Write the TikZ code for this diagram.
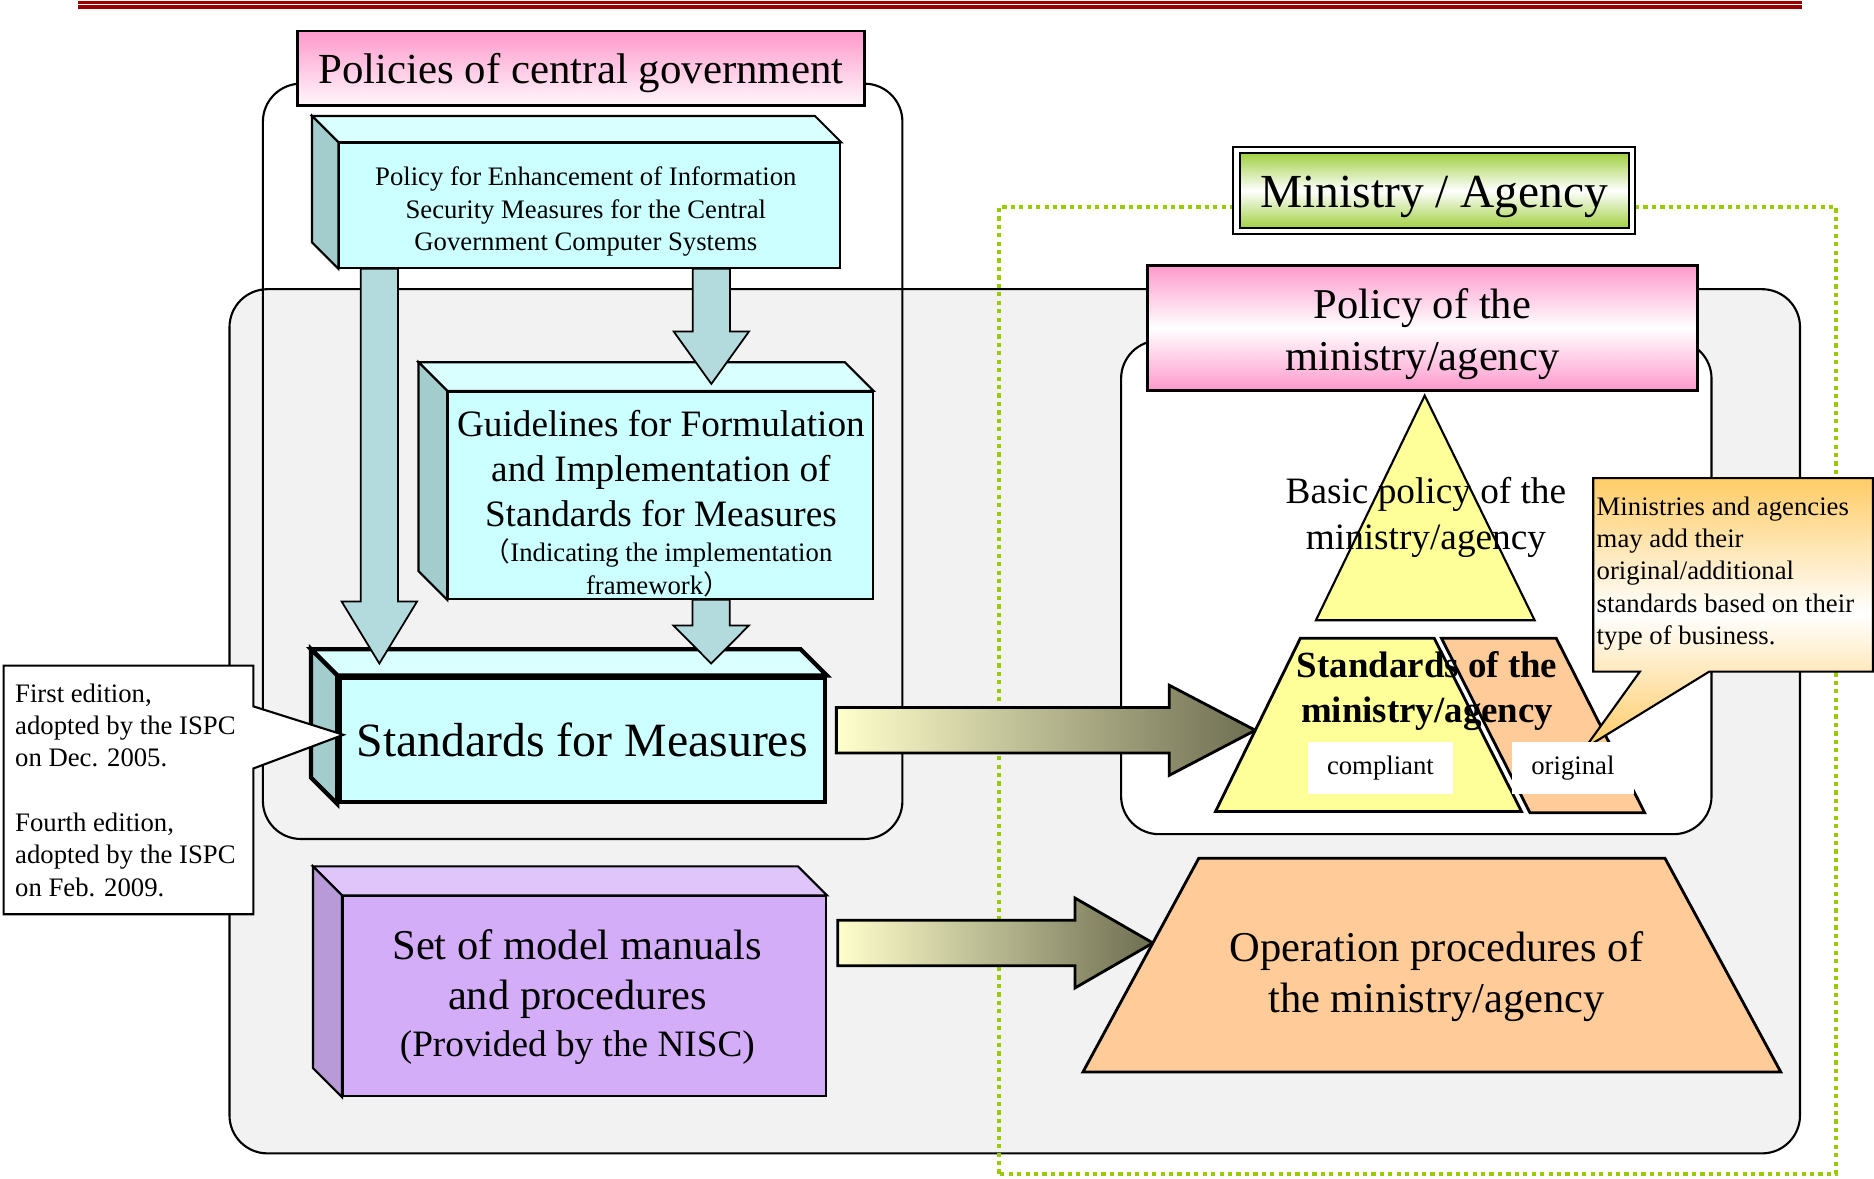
\documentclass[tikz,border=0pt]{standalone}
\usepackage{fontspec}
\setmainfont{Liberation Serif}
\newfontfamily\cjk{Noto Sans CJK JP}
\usetikzlibrary{calc, shapes.geometric}

\definecolor{headred}{HTML}{990000}
\definecolor{marble}{HTML}{F2F2F2}
\definecolor{greendot}{HTML}{99CC00}
\definecolor{pinkbox}{HTML}{FF99CC}
\definecolor{greenbox}{HTML}{99CC33}
\definecolor{cyanfront}{HTML}{CCFFFF}
\definecolor{cyantop}{HTML}{DAFFFF}
\definecolor{cyanside}{HTML}{A3CCCC}
\definecolor{tealfill}{HTML}{B3DADD}
\definecolor{purfront}{HTML}{D4ADF9}
\definecolor{purtop}{HTML}{DFC5FA}
\definecolor{purside}{HTML}{B89AD9}
\definecolor{yellowfill}{HTML}{FFFF99}
\definecolor{orangefill}{HTML}{FFCC99}
\definecolor{noteorange}{HTML}{FFCC66}
\definecolor{arrowlight}{HTML}{FFFFCC}
\definecolor{arrowdark}{HTML}{6E6E52}

\tikzset{
  panel/.style={draw, line width=0.6pt, rounded corners=0.38cm},
  greendots/.style={draw=greendot, line width=1.2pt, dash pattern=on 1.2pt off 1.2pt},
  face/.style={draw, line width=0.6pt},
  cyanbox/.style={draw, fill=cyanfront, line width=0.6pt, inner sep=1pt, align=center},
  purbox/.style={draw, fill=purfront, line width=0.6pt, inner sep=1pt, align=center},
  tealarrow/.style={draw, fill=tealfill, line width=0.5pt},
  fadearrow/.style={draw, line width=0.8pt, left color=arrowlight, right color=arrowdark},
  pinktitle/.style={draw, line width=0.8pt, top color=pinkbox, bottom color=pinkbox, middle color=white, align=center},
  slab/.style={draw, line width=0.8pt},
  txt/.style={inner sep=0pt, align=center},
  tag/.style={fill=white, inner sep=0pt, font={\fontsize{7.6}{9.2}\selectfont}},
}

% block arrows: style, start, tip, head length (and head half width)
\newcommand{\vArrow}[4]{%
  \draw[#1] let \p1=#2, \p2=#3 in
    (\x1-0.186cm,\y1) -- (\x1-0.186cm,\y2+#4) -- (\x1-0.377cm,\y2+#4)
    -- (\x1,\y2) -- (\x1+0.377cm,\y2+#4) -- (\x1+0.186cm,\y2+#4)
    -- (\x1+0.186cm,\y1) -- cycle;}
\newcommand{\hArrow}[5]{%
  \draw[#1] let \p1=#2, \p2=#3 in
    (\x1,\y1+0.227cm) -- (\x2-#4,\y1+0.227cm) -- (\x2-#4,\y1+#5)
    -- (\x2,\y1) -- (\x2-#4,\y1-#5) -- (\x2-#4,\y1-0.227cm)
    -- (\x1,\y1-0.227cm) -- cycle;}

\begin{document}
\begin{tikzpicture}
    \useasboundingbox (0,0) rectangle (18.74,11.785);

    % Header rule
    \draw[headred, line width=0.7pt] (0.777,11.762) -- (18.024,11.762);
    \draw[headred, line width=1.1pt] (0.777,11.712) -- (18.024,11.712);

    % Panels
    \draw[panel, fill=marble] (2.295,0.251) rectangle (18.000,8.893);
    \draw[panel] (2.629,3.395) rectangle (9.024,10.948);
    \draw[greendots] (9.992,0.048) rectangle (18.358,9.717);
    \draw[panel, fill=white] (11.211,3.443) rectangle (17.115,8.379);

    % Shape corners
    \coordinate (smbl) at (12.155,3.670);
    \coordinate (smtl) at (13.004,5.403);
    \coordinate (smtr) at (14.342,5.403);
    \coordinate (smbr) at (15.215,3.670);
    \coordinate (opbl) at (10.829,1.064);
    \coordinate (optl) at (11.988,3.203);
    \coordinate (optr) at (16.649,3.203);
    \coordinate (opbr) at (17.808,1.064);
    \coordinate (smtip) at ($(smbl)!0.469!(smtl)$);
    \coordinate (optip) at ($(opbl)!0.604!(optl)$);
    \coordinate (mintip) at (15.848,4.303);

    % Titles
    \node[draw, line width=0.8pt, top color=pinkbox, bottom color=pinkbox!8, minimum width=5.665cm, minimum height=0.741cm] (cgov) at (5.809,11.104) {};
    \node[txt, font={\fontsize{12.2}{14}\selectfont}] at ($(cgov.center)+(0,-0.05)$) {Policies of central government};
    \node[draw, double, double distance=1.2pt, line width=0.6pt, top color=greenbox, bottom color=greenbox, middle color=white, minimum width=3.955cm, minimum height=0.812cm] (mina) at (14.343,9.879) {};
    \node[txt, font={\fontsize{13.5}{16}\selectfont}] at ($(mina.center)+(0,-0.06)$) {Ministry / Agency};
    \node[pinktitle, minimum width=5.498cm, minimum height=1.255cm] (mpol) at (14.223,8.505) {};
    \node[txt, font={\fontsize{12.1}{15}\selectfont}] at ($(mpol.center)+(0,-0.06)$) {Policy of the\\ministry/agency};

    % Policy box
    \node[cyanbox, minimum width=5.008cm, minimum height=1.243cm] (pol) at (5.898,9.730) {};
    \filldraw[face, fill=cyantop] (pol.north west) -- ++(-0.263,0.263) -- ($(pol.north east)+(-0.263,0.263)$) -- (pol.north east) -- cycle;
    \filldraw[face, fill=cyanside] (pol.north west) -- ++(-0.263,0.263) -- ($(pol.south west)+(-0.263,0.263)$) -- (pol.south west) -- cycle;
    \node[txt, font={\fontsize{7.6}{9.2}\selectfont}] at ($(pol.center)+(-0.04,-0.06)$) {Policy for Enhancement of Information\\Security Measures for the Central\\Government Computer Systems};

    % Guidelines box
    \node[cyanbox, minimum width=4.243cm, minimum height=2.068cm] (gdl) at (6.604,6.831) {};
    \filldraw[face, fill=cyantop] (gdl.north west) -- ++(-0.287,0.287) -- ($(gdl.north east)+(-0.287,0.287)$) -- (gdl.north east) -- cycle;
    \filldraw[face, fill=cyanside] (gdl.north west) -- ++(-0.287,0.287) -- ($(gdl.south west)+(-0.287,0.287)$) -- (gdl.south west) -- cycle;
    \node[txt, font={\fontsize{10.6}{12.9}\selectfont}] (gdltxt) at (6.609,7.100) {Guidelines for Formulation\\and Implementation of\\Standards for Measures};
    \node[txt, font={\fontsize{7.6}{9.2}\selectfont}] (gdlsub) at (6.58,6.108) {{\cjk （}Indicating the implementation\\framework{\cjk ）}};

    % Standards box
    \node[cyanbox, line width=1.2pt, minimum width=4.853cm, minimum height=1.243cm, font={\fontsize{13.6}{16}\selectfont}] (std) at (5.821,4.387) {Standards for Measures};
    \filldraw[face, line width=1.2pt, fill=cyantop] (std.north west) -- ++(-0.263,0.263) -- ($(std.north east)+(-0.263,0.263)$) -- (std.north east) -- cycle;
    \filldraw[face, line width=1.2pt, fill=cyanside] (std.north west) -- ++(-0.263,0.263) -- ($(std.south west)+(-0.263,0.263)$) -- (std.south west) -- cycle;

    % Manuals box
    \node[purbox, minimum width=4.829cm, minimum height=1.996cm] (pur) at (5.845,1.823) {};
    \filldraw[face, fill=purtop] (pur.north west) -- ++(-0.29,0.29) -- ($(pur.north east)+(-0.29,0.29)$) -- (pur.north east) -- cycle;
    \filldraw[face, fill=purside] (pur.north west) -- ++(-0.29,0.29) -- ($(pur.south west)+(-0.29,0.29)$) -- (pur.south west) -- cycle;
    \node[txt, font={\fontsize{12.1}{14.3}\selectfont}] (purtxt) at (5.773,2.045) {Set of model manuals\\and procedures};
    \node[txt, font={\fontsize{10.6}{12}\selectfont}] (pursub) at (5.773,1.31) {(Provided by the NISC)};

    % Arrows
    \vArrow{tealarrow}{($(pol.south west)+(0.41,0)$)}{($(std.north west)+(0.41,0.12)$)}{0.62cm}
    \vArrow{tealarrow}{($(pol.south west)+(3.73,0)$)}{($(gdl.north west)+(2.64,0.07)$)}{0.525cm}
    \vArrow{tealarrow}{($(gdl.south west)+(2.64,0)$)}{($(std.north west)+(3.73,0.12)$)}{0.38cm}
    \hArrow{fadearrow}{($(std.east)+(0.095,0.095)$)}{(smtip)}{0.86cm}{0.45cm}
    \hArrow{fadearrow}{($(pur.east)+(0.107,0.532)$)}{(optip)}{0.78cm}{0.45cm}

    % Ministry side
    \filldraw[slab, line width=0.6pt, fill=yellowfill] (14.247,7.829) -- (15.346,5.582) -- (13.159,5.582) -- cycle;
    \filldraw[slab, fill=yellowfill] (smbl) -- (smtl) -- (smtr) -- (smbr) -- cycle;
    \filldraw[slab, fill=orangefill] (14.414,5.403) -- (15.562,5.403) -- (16.446,3.658) -- (15.299,3.658) -- cycle;
    \filldraw[slab, fill=orangefill] (opbl) -- (optl) -- (optr) -- (opbr) -- cycle;
    \node[txt, font={\fontsize{10.6}{12.9}\selectfont}] (basic) at (14.259,6.61) {Basic policy of the\\ministry/agency};
    \node[txt, font={\bfseries\fontsize{10.5}{12.9}\selectfont}] (smtxt) at (14.271,4.877) {Standards of the\\ministry/agency};
    \node[txt, font={\fontsize{12.1}{14.3}\selectfont}] (optxt) at (14.366,2.02) {Operation procedures of\\the ministry/agency};

    % Note on original standards
    \draw[line width=0.6pt, top color=noteorange, bottom color=noteorange, middle color=white] (15.932,7.004) -- (18.729,7.004) -- (18.729,5.068) -- (17.091,5.068) -- (mintip) -- (16.398,5.068) -- (15.932,5.068) -- cycle;
    \node[txt, anchor=west, align=left, font={\fontsize{7.6}{9.2}\selectfont}] (mintxt) at (15.960,6.05) {Ministries and agencies\\may add their\\original/additional\\standards based on their\\type of business.};
    \node[tag, minimum width=1.457cm, minimum height=0.514cm] (cmp) at (13.804,4.106) {compliant};
    \node[tag, minimum width=1.219cm, minimum height=0.514cm] (org) at (15.729,4.106) {original};

    % Note on editions
    \coordinate (edtip) at ($(std.west)+(0.06,0.05)$);
    \draw[line width=0.6pt, fill=white] (0.036,5.128) -- (2.534,5.128) -- (2.534,4.721) -- (edtip) -- (2.534,4.100) -- (2.534,2.642) -- (0.036,2.642) -- cycle;
    \node[txt, anchor=west, align=left, font={\fontsize{7.6}{9.2}\selectfont}] (edtxt) at (0.145,3.885) {First edition,\\adopted by the ISPC\\on Dec. 2005.\\[9.2pt]Fourth edition,\\adopted by the ISPC\\on Feb. 2009.};
\end{tikzpicture}
\end{document}
